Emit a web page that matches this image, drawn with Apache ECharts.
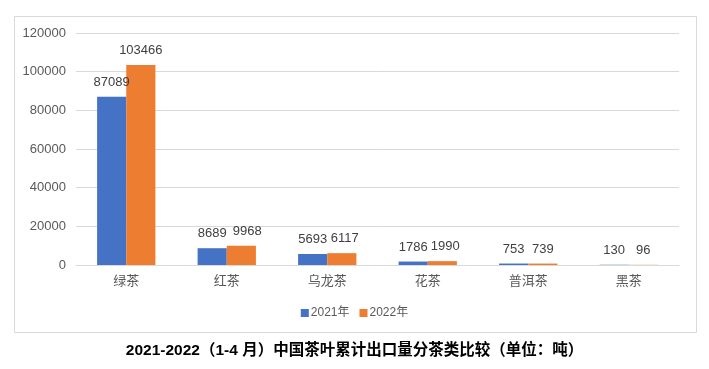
<!DOCTYPE html>
<html><head><meta charset="utf-8">
<script src="https://cdn.jsdelivr.net/npm/echarts@6/dist/echarts.min.js"></script>
<style>html,body{margin:0;padding:0;background:#fff}#c{width:709px;height:369px}</style>
</head><body><div id="c"></div>
<script>
const categories = ['绿茶','红茶','乌龙茶','花茶','普洱茶','黑茶'];
const seriesNames = ['2021年','2022年'];
const values2021 = [87089, 8689, 5693, 1786, 753, 130];
const values2022 = [103466, 9968, 6117, 1990, 739, 96];
const yTicks = {min:0, max:120000, interval:20000};
const titleText = '2021-2022（1-4 月）中国茶叶累计出口量分茶类比较（单位：吨）';
// horizontal nudge of 2022 labels (layout only, to avoid overlapping labels)
const labelNudge2022 = [0, 6, 3, 3, 0, 0];

const chart = echarts.init(document.getElementById('c'), null, {renderer:'canvas'});
const font = "'Liberation Sans', 'Noto Sans CJK SC', sans-serif";
const labelStyle = {show:true, position:'top', distance:8, color:'#404040', fontSize:13, fontFamily:font};
chart.setOption({
  animation:false,
  textStyle:{fontFamily:font},
  graphic:[{type:'rect', shape:{x:14.5,y:16.5,width:682,height:316}, style:{fill:null, stroke:'#d9d9d9', lineWidth:1}, silent:true}],
  title:{text:titleText, left:'center', top:338, textStyle:{fontSize:15.5, fontWeight:'bold', color:'#000', fontFamily:font}},
  legend:{data:seriesNames, bottom:45, left:'center', itemWidth:8, itemHeight:8, itemGap:10, icon:'rect',
    textStyle:{color:'#595959', fontSize:12, fontFamily:font, padding:[0,0,0,-3]}},
  grid:{left:76, right:30, top:33, bottom:104},
  xAxis:{type:'category', data:categories,
    axisLine:{lineStyle:{color:'#d9d9d9'}}, axisTick:{show:false},
    axisLabel:{color:'#595959', fontSize:13, margin:9, fontFamily:"'Noto Sans CJK SC', sans-serif"}},
  yAxis:{type:'value', min:yTicks.min, max:yTicks.max, interval:yTicks.interval,
    axisLine:{show:false}, axisTick:{show:false},
    splitLine:{lineStyle:{color:'#d9d9d9'}},
    axisLabel:{color:'#595959', fontSize:13, margin:10, fontFamily:font, formatter:v=>String(v)}},
  series:[
    {name:seriesNames[0], type:'bar', data:values2021, itemStyle:{color:'#4472C4'}, barGap:'0%', barCategoryGap:'42%', label:labelStyle},
    {name:seriesNames[1], type:'bar', itemStyle:{color:'#ED7D31'}, label:labelStyle,
      data:values2022.map((v,i)=>({value:v, label:{offset:[labelNudge2022[i],0]}}))}
  ]
});
</script></body></html>
